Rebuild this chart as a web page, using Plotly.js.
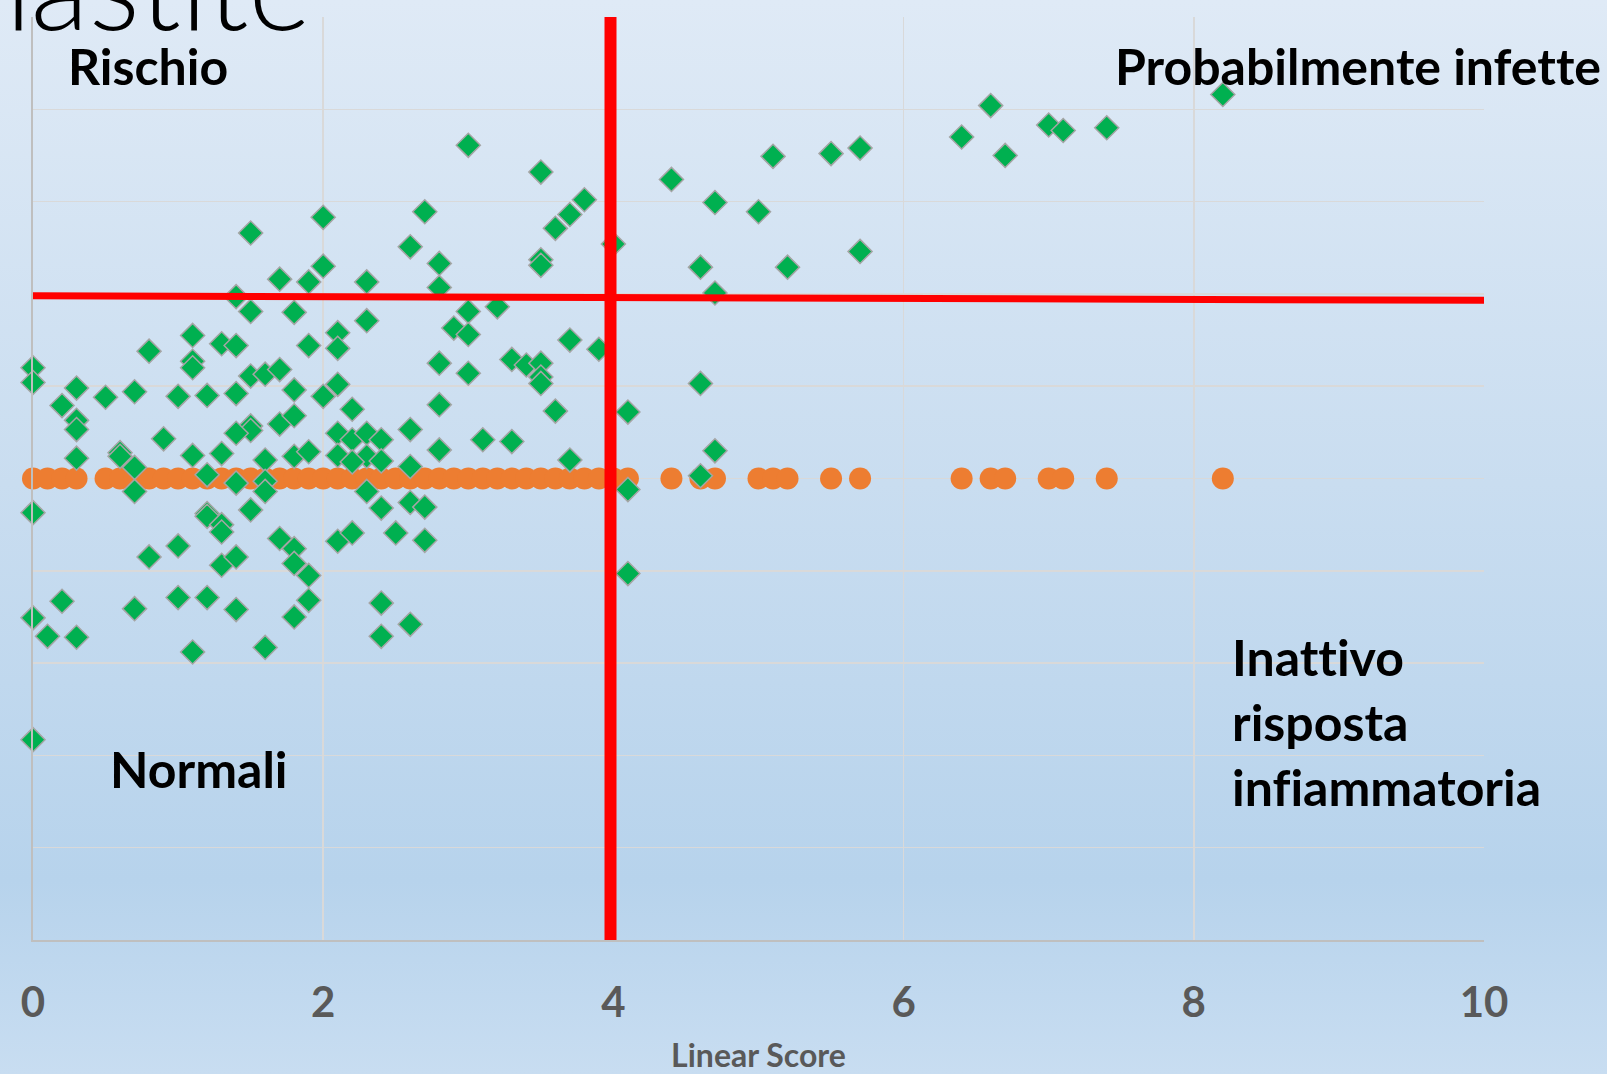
<!DOCTYPE html>
<html>
<head>
<meta charset="utf-8">
<script src="https://cdn.plot.ly/plotly-3.0.1.min.js"></script>
<style>
  html, body { margin: 0; padding: 0; width: 1607px; height: 1074px; overflow: hidden; }
  body { background: linear-gradient(to bottom, #dfeaf6 0%, #c9ddf0 45%, #b7d3ec 82%, #c8ddf1 100%); }
  #chart { width: 1607px; height: 1074px; }
  svg text, svg tspan {
    font-variant-ligatures: none !important;
    font-feature-settings: "liga" 0, "clig" 0, "dlig" 0 !important;
  }
</style>
</head>
<body>
<div id="chart"></div>
<script>
// Green diamonds: individual samples (Linear Score vs. second variable)
const greenX = [
  8.2, 6.6, 7.0, 7.1, 7.4, 6.4, 6.7, 5.7, 5.5, 5.1,
  3.0, 3.5, 4.4, 4.7, 5.0, 3.8, 3.7, 3.6, 4.0, 3.5, 3.5,
  5.7, 5.2, 4.6, 4.7,
  2.7, 2.0, 1.5, 2.6, 2.8, 2.8, 2.0, 1.9, 1.7, 2.3,
  1.4, 1.5, 1.8, 3.0, 3.2, 2.9, 3.0, 2.3, 2.1, 2.1, 1.9,
  1.1, 1.3, 1.4, 0.8, 3.7, 3.9, 2.8, 3.0, 3.3, 3.4, 3.5, 3.5, 3.5,
  3.6, 4.1, 4.6, 4.7, 4.6, 4.1, 4.1,
  0.0, 0.0, 0.3, 0.5, 0.7, 0.2, 0.3, 0.3, 0.3,
  1.1, 1.1, 1.0, 1.2, 1.4, 1.5, 1.6, 1.7, 1.8, 2.0, 2.1, 2.2, 2.8,
  1.5, 1.5, 1.7, 1.8, 1.4, 0.9, 0.6, 0.6, 0.7,
  1.1, 1.3, 1.6, 1.8, 1.9, 2.1, 2.1, 2.2, 2.3, 2.3, 2.4,
  2.2, 2.4, 2.6, 2.8, 2.6, 3.1, 3.3, 3.7,
  1.2, 1.4, 1.6, 1.6, 0.7, 2.3,
  0.0, 1.5, 1.2, 1.2, 1.3, 1.3, 2.4, 2.6, 2.7, 2.5, 2.7, 2.1, 2.2,
  1.7, 1.8, 1.8, 1.9, 0.8, 1.0, 1.3, 1.4,
  1.0, 1.2, 0.7, 1.4, 1.9, 1.8, 2.4, 2.4, 2.6,
  0.0, 0.2, 0.1, 0.3, 1.1, 1.6, 0.0
];
const greenY = [
  9.16, 9.04, 8.83, 8.77, 8.80, 8.70, 8.50, 8.58, 8.52, 8.49,
  8.61, 8.32, 8.24, 7.99, 7.89, 8.02, 7.86, 7.71, 7.54, 7.37, 7.31,
  7.46, 7.29, 7.29, 7.01,
  7.89, 7.83, 7.66, 7.51, 7.33, 7.07, 7.30, 7.13, 7.16, 7.13,
  6.97, 6.81, 6.80, 6.81, 6.86, 6.63, 6.56, 6.71, 6.58, 6.41, 6.44,
  6.55, 6.46, 6.44, 6.38, 6.50, 6.40, 6.25, 6.14, 6.29, 6.23, 6.25, 6.10, 6.03,
  5.73, 5.72, 6.03, 5.30, 5.03, 4.88, 3.97,
  6.20, 6.04, 5.98, 5.88, 5.94, 5.79, 5.63, 5.53, 5.22,
  6.27, 6.20, 5.89, 5.90, 5.92, 6.11, 6.13, 6.18, 5.96, 5.89, 6.02, 5.75, 5.80,
  5.57, 5.52, 5.59, 5.68, 5.49, 5.43, 5.28, 5.24, 5.12,
  5.25, 5.27, 5.20, 5.24, 5.29, 5.49, 5.25, 5.42, 5.49, 5.24, 5.42,
  5.18, 5.19, 5.53, 5.31, 5.13, 5.42, 5.40, 5.20,
  5.04, 4.95, 4.97, 4.86, 4.86, 4.86,
  4.63, 4.66, 4.62, 4.59, 4.50, 4.42, 4.68, 4.74, 4.69, 4.41, 4.33, 4.32, 4.41,
  4.35, 4.24, 4.08, 3.95, 4.15, 4.27, 4.06, 4.15,
  3.71, 3.71, 3.59, 3.58, 3.68, 3.50, 3.65, 3.29, 3.42,
  3.49, 3.67, 3.29, 3.28, 3.12, 3.17, 2.17
];

// Orange circles: Linear Score values projected on the reference line
const orangeX = [
  0.0, 0.1, 0.2, 0.3,
  0.5, 0.6, 0.7, 0.8, 0.9, 1.0, 1.1, 1.2, 1.3, 1.4, 1.5, 1.6, 1.7, 1.8, 1.9, 2.0,
  2.1, 2.2, 2.3, 2.4, 2.5, 2.6, 2.7, 2.8, 2.9, 3.0, 3.1, 3.2, 3.3, 3.4, 3.5, 3.6,
  3.7, 3.8, 3.9, 4.0, 4.1,
  4.4, 4.6, 4.7, 5.0, 5.1, 5.2, 5.5, 5.7, 6.4, 6.6, 6.7, 7.0, 7.1, 7.4, 8.2
];
const orangeY = orangeX.map(() => 5);

// Red threshold lines
const vLineX = [3.98, 3.98];
const vLineY = [0, 10.08];
const hLineX = [0, 10.08];
const hLineY = [6.98, 6.93];

// Axis ticks
const xTicks = [0, 2, 4, 6, 8, 10];
const xTickText = ['0', '2', '4', '6', '8', '10'];

// Quadrant labels
const labelText = ['Rischio', 'Probabilmente infette', 'Normali', 'Inattivo<br>risposta<br>infiammatoria'];
const labelX = [0.23, 7.44, 0.52, 8.25];
const labelY = [9.47, 9.47, 1.85, 2.36];

const traces = [
  {
    type: 'scatter', mode: 'markers', x: orangeX, y: orangeY,
    marker: { color: '#ed7d31', size: 22, line: { width: 0 } },
    hoverinfo: 'x', cliponaxis: false
  },
  {
    type: 'scatter', mode: 'markers', x: greenX, y: greenY,
    marker: { symbol: 'diamond', color: '#00b050', size: 18.5, line: { color: '#a5a5a5', width: 1.5 } },
    cliponaxis: false
  },
  {
    type: 'scatter', mode: 'lines', x: hLineX, y: hLineY,
    line: { color: '#ff0000', width: 7 }, hoverinfo: 'skip'
  },
  {
    type: 'scatter', mode: 'lines', x: vLineX, y: vLineY,
    line: { color: '#ff0000', width: 12 }, hoverinfo: 'skip'
  }
];

const annotations = labelText.map((t, i) => ({
  text: t, x: labelX[i], y: labelY[i], xref: 'x', yref: 'y',
  xanchor: 'left', yanchor: 'middle', align: 'left', showarrow: false,
  font: { family: 'Lato, "Open Sans", sans-serif', size: 50, color: '#000000', weight: 700 }
}));
annotations.push({
  text: 'mastite', xref: 'paper', yref: 'paper', x: 0.193, y: 1.036,
  xanchor: 'right', yanchor: 'middle', showarrow: false,
  font: { family: 'Lato, "Open Sans", sans-serif', size: 120, color: '#000000', weight: 300 }
});

const layout = {
  width: 1607, height: 1074,
  margin: { l: 33, r: 123, t: 17, b: 134, pad: 0 },
  paper_bgcolor: 'rgba(0,0,0,0)',
  plot_bgcolor: 'rgba(0,0,0,0)',
  showlegend: false,
  xaxis: {
    range: [0, 10], tickvals: xTicks, ticktext: xTickText,
    showgrid: true, gridcolor: '#d9d9d9', gridwidth: 1.5,
    zeroline: false, showline: true, linecolor: '#bfbfbf', linewidth: 2,
    ticks: '', ticklabelstandoff: 25,
    tickfont: { family: 'Lato, "Open Sans", sans-serif', size: 42, color: '#595959', weight: 700 },
    title: { text: 'Linear Score', standoff: 30,
      font: { family: 'Lato, "Open Sans", sans-serif', size: 32, color: '#595959', weight: 700 } },
    automargin: false
  },
  yaxis: {
    range: [0, 10], dtick: 1, tick0: 0,
    showgrid: true, gridcolor: '#d9d9d9', gridwidth: 1.5,
    zeroline: false, showline: true, linecolor: '#bfbfbf', linewidth: 2,
    showticklabels: false, ticks: '', automargin: false
  },
  annotations: annotations
};

Plotly.newPlot('chart', traces, layout, { displayModeBar: false, staticPlot: true });
</script>
</body>
</html>
